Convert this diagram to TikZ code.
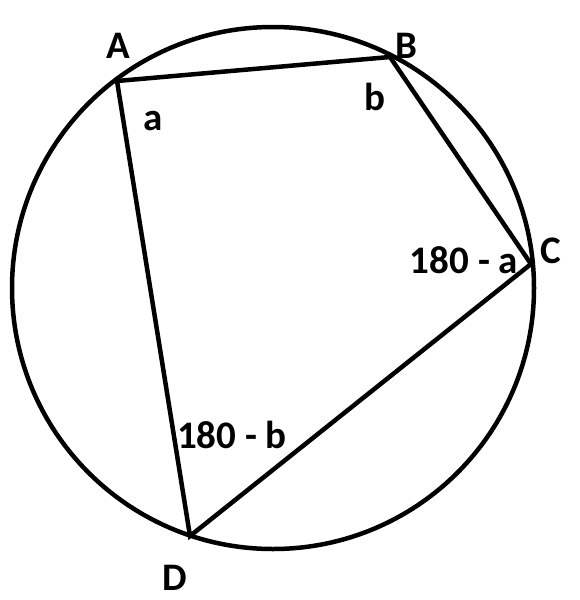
\documentclass[tikz,border=0pt]{standalone}
\usepackage{fontspec}
\setmainfont{Carlito}
\begin{document}
\begin{tikzpicture}[x=1pt,y=-1pt]
\useasboundingbox (0,0) rectangle (579,600);
\tikzset{lbl/.style={anchor=base,inner sep=0pt,font=\fontsize{39}{44}\selectfont\bfseries}}
\coordinate (O) at (273,288);
\coordinate (A) at (117,81);
\coordinate (B) at (390,57);
\coordinate (C) at (531,264);
\coordinate (D) at (190,536);
\path[draw,line width=4.5pt] (O) circle (261);
\path[draw,line width=4.5pt,line join=miter] (A) -- (B) -- (C) -- (D) -- cycle;
\node[lbl] (lA) at (118,58) {A};
\node[lbl] (lB) at (406,58) {B};
\node[lbl] (lC) at (551,263) {C};
\node[lbl] (lD) at (175,590) {D};
\node[lbl] (la) at (153,130) {a};
\node[lbl] (lb) at (375,110) {b};
\node[lbl] (lCa) at (464,273) {180 - a};
\node[lbl] (lDb) at (232,448) {180 - b};
\end{tikzpicture}
\end{document}
